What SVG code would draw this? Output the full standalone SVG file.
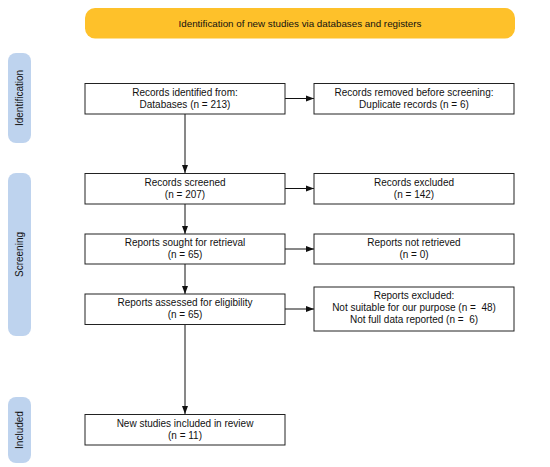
<svg xmlns="http://www.w3.org/2000/svg" width="550" height="467" viewBox="0 0 550 467">
<style>
.box{fill:#fff;stroke:#222;stroke-width:1}
.side{fill:#bed3ee}
.t{font-family:"Liberation Sans",Arial,sans-serif;font-size:10px;fill:#111;text-anchor:middle;white-space:pre}
.c{stroke:#111;stroke-width:1;fill:none}
</style>
<defs><marker id="ah" markerWidth="8" markerHeight="8" refX="8" refY="4" orient="auto" markerUnits="userSpaceOnUse"><path d="M0,1 L8,4 L0,7 Z" fill="#111"/></marker></defs>
<rect width="550" height="467" fill="#fff"/>
<g id="banner"><rect x="85" y="8" width="430" height="30.5" rx="10" fill="#fec12a"/><text class="t" x="300" y="26.5" style="font-size:9.8px">Identification of new studies via databases and registers</text></g>
<g id="side-identification"><rect class="side" x="8" y="53" width="23" height="90" rx="8"/><text class="t" transform="translate(23,98) rotate(-90)">Identification</text></g>
<g id="side-screening"><rect class="side" x="8" y="173" width="23" height="163" rx="8"/><text class="t" transform="translate(23,254.5) rotate(-90)">Screening</text></g>
<g id="side-included"><rect class="side" x="8" y="397" width="23" height="66" rx="8"/><text class="t" transform="translate(23,430) rotate(-90)">Included</text></g>
<g id="connectors">
<line class="c" x1="185" y1="114" x2="185" y2="173" marker-end="url(#ah)"/>
<line class="c" x1="185" y1="204" x2="185" y2="234" marker-end="url(#ah)"/>
<line class="c" x1="185" y1="264" x2="185" y2="294" marker-end="url(#ah)"/>
<line class="c" x1="185" y1="324.5" x2="185" y2="414" marker-end="url(#ah)"/>
<line class="c" x1="285" y1="98.5" x2="314" y2="98.5" marker-end="url(#ah)"/>
<line class="c" x1="285" y1="188.5" x2="314" y2="188.5" marker-end="url(#ah)"/>
<line class="c" x1="285" y1="249" x2="314" y2="249" marker-end="url(#ah)"/>
<line class="c" x1="285" y1="309" x2="314" y2="309" marker-end="url(#ah)"/>
</g>
<g id="n1"><rect class="box" x="85" y="83.5" width="200" height="30.5"/><text class="t" x="185" y="96">Records identified from:</text><text class="t" x="185" y="108">Databases (n = 213)</text></g>
<g id="n2"><rect class="box" x="314" y="83.5" width="200" height="30.5"/><text class="t" x="414" y="96">Records removed before screening:</text><text class="t" x="414" y="108">Duplicate records (n = 6)</text></g>
<g id="n3"><rect class="box" x="85" y="173.5" width="200" height="30.5"/><text class="t" x="185" y="186">Records screened</text><text class="t" x="185" y="198">(n = 207)</text></g>
<g id="n4"><rect class="box" x="314" y="173.5" width="200" height="30.5"/><text class="t" x="414" y="186">Records excluded</text><text class="t" x="414" y="198">(n = 142)</text></g>
<g id="n5"><rect class="box" x="85" y="234" width="200" height="30"/><text class="t" x="185" y="246">Reports sought for retrieval</text><text class="t" x="185" y="258">(n = 65)</text></g>
<g id="n6"><rect class="box" x="314" y="234" width="200" height="30"/><text class="t" x="414" y="246">Reports not retrieved</text><text class="t" x="414" y="258">(n = 0)</text></g>
<g id="n7"><rect class="box" x="85" y="294" width="200" height="30.5"/><text class="t" x="185" y="306">Reports assessed for eligibility</text><text class="t" x="185" y="318">(n = 65)</text></g>
<g id="n8"><rect class="box" x="314" y="287" width="200" height="44"/><text class="t" x="414" y="299">Reports excluded:</text><text class="t" x="414" y="311">Not suitable for our purpose (n =  48)</text><text class="t" x="414" y="323">Not full data reported (n =  6)</text></g>
<g id="n9"><rect class="box" x="85" y="414.5" width="200" height="30.5"/><text class="t" x="185" y="427">New studies included in review</text><text class="t" x="185" y="439">(n = 11)</text></g>
</svg>
